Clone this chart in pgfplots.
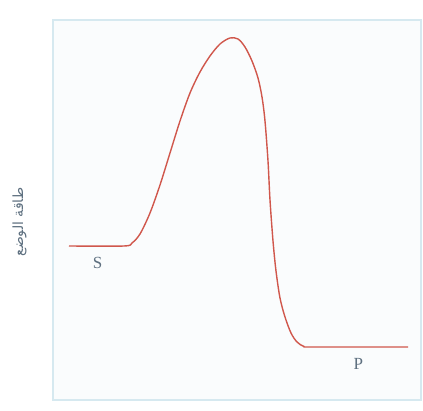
\documentclass[border=0pt]{standalone}
\usepackage{pgfplots}
\pgfplotsset{compat=1.18}
\usepackage{fontspec}
\setmainfont{Liberation Serif}
\newfontfamily\arabicfont[Script=Arabic]{DejaVu Sans}
\TeXXeTstate=1
\definecolor{boxblue}{HTML}{D6E9F0}
\definecolor{boxfill}{HTML}{FAFCFD}
\definecolor{curvered}{HTML}{D0574C}
\definecolor{labgray}{HTML}{5E7080}
\begin{document}
\begin{tikzpicture}
\useasboundingbox (-53pt,-11pt) rectangle (370pt,400pt);
\begin{axis}[
  at={(0,0)}, anchor=south west,
  scale only axis, width=368pt, height=380pt,
  xmin=53, xmax=421, ymin=11, ymax=391,
  axis line style={boxblue, line width=2pt},
  axis background/.style={fill=boxfill},
  xtick=\empty, ytick=\empty,
  clip=false,
]
\addplot[curvered, line width=1.4pt, smooth, tension=0.5] coordinates {
(69,165) (124,165) (132,168) (140,177) (150,198) (160,226) (170,258)
(180,290) (190,318) (200,339) (210,355) (220,367) (230,373) (238,372)
(245,364) (252,350) (258,333) (262,314) (265,290) (268,250) (270,211)
(273,170) (276,140) (280,113) (285,94) (291,78) (297,69) (304,64.5)
(312,64) (408,64)
};
\node[labgray, font=\fontsize{17}{17}\selectfont] at (axis cs:97.7,147.7) {S};
\node[labgray, font=\fontsize{17}{17}\selectfont] at (axis cs:358.3,46.7) {P};
\node[labgray, rotate=90, font=\fontsize{14}{14}\selectfont] at (axis cs:19.5,189) {\arabicfont\beginR طاقة الوضع\endR};
\end{axis}
\end{tikzpicture}
\end{document}
